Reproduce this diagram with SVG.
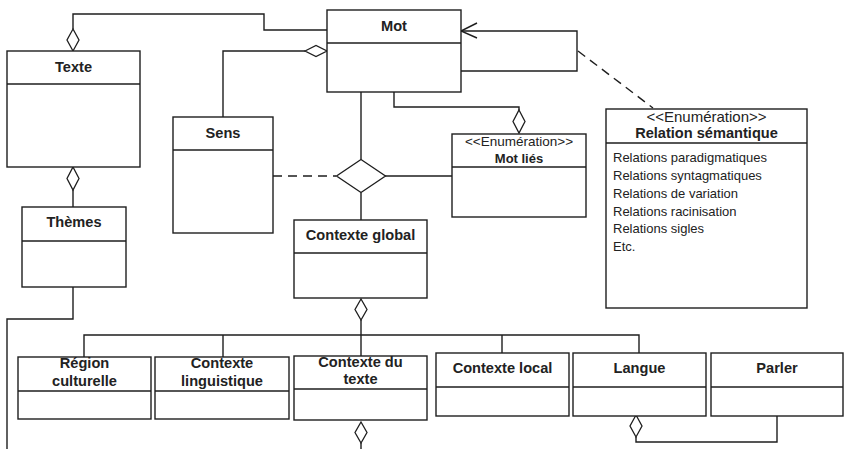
<svg xmlns="http://www.w3.org/2000/svg" width="844" height="449" viewBox="0 0 844 449">
<style>
.box{fill:#fff;stroke:#1e1e1e;stroke-width:1.4}
.ln{fill:none;stroke:#1e1e1e;stroke-width:1.4}
.dash{fill:none;stroke:#1e1e1e;stroke-width:1.4;stroke-dasharray:9,6}
.dia{fill:#fff;stroke:#1e1e1e;stroke-width:1.3}
.h{font-family:"Liberation Sans",Arial,sans-serif;font-weight:bold;font-size:14.6px;fill:#222;text-anchor:middle}
.st{font-family:"Liberation Sans",Arial,sans-serif;font-size:15px;fill:#222;text-anchor:middle}
.li{font-family:"Liberation Sans",Arial,sans-serif;font-size:13px;fill:#222}
</style>
<rect width="844" height="449" fill="#fff"/>
<g id="connectors">
<polyline class="ln" points="73,29 73,14 264,14 264,30 327,30"/>
<polyline class="ln" points="223,117 223,51 305,51"/>
<polyline class="ln" points="73,190 73,207"/>
<polyline class="ln" points="73,287 73,319 7,319 7,449"/>
<polyline class="ln" points="461,71 577,71 577,31 461,31"/>
<polyline class="ln" points="477,23 461,31 477,38"/>
<line class="dash" x1="578" y1="51" x2="653" y2="108"/>
<polyline class="ln" points="394,92 394,107 519,107 519,110"/>
<line class="ln" x1="361" y1="92" x2="361" y2="159.5"/>
<line class="dash" x1="273" y1="176" x2="336" y2="176"/>
<line class="ln" x1="385" y1="176" x2="452" y2="176"/>
<line class="ln" x1="361" y1="192.5" x2="361" y2="220"/>
<line class="ln" x1="361" y1="320" x2="361" y2="356"/>
<polyline class="ln" points="84,357 84,335 639,335 639,353"/>
<line class="ln" x1="223" y1="335" x2="223" y2="357"/>
<line class="ln" x1="502" y1="335" x2="502" y2="353"/>
<line class="ln" x1="361" y1="443" x2="361" y2="449"/>
<polyline class="ln" points="636,437 636,442 777,442 777,416"/>
<polygon class="dia" points="73,29 79,40 73,51 67,40"/>
<polygon class="dia" points="73,167 79,178.5 73,190 67,178.5"/>
<polygon class="dia" points="305,51 316,45.5 327,51 316,56.5"/>
<polygon class="dia" points="519,110 525,121.5 519,133 513,121.5"/>
<polygon class="dia" points="361,159.5 385.5,176 361,192.5 336.5,176"/>
<polygon class="dia" points="361,299 367,309.5 361,320 355,309.5"/>
<polygon class="dia" points="361,422 367,432.5 361,443 355,432.5"/>
<polygon class="dia" points="636,415 642,426 636,437 630,426"/>
</g>
<g id="mot"><rect class="box" x="327" y="10" width="134" height="82"/><line class="ln" x1="327" y1="43" x2="461" y2="43"/><text class="h" x="394" y="31">Mot</text></g>
<g id="texte"><rect class="box" x="7" y="51" width="133" height="116"/><line class="ln" x1="7" y1="84" x2="140" y2="84"/><text class="h" x="73.5" y="72">Texte</text></g>
<g id="sens"><rect class="box" x="173" y="117" width="100" height="116"/><line class="ln" x1="173" y1="150" x2="273" y2="150"/><text class="h" x="223" y="138">Sens</text></g>
<g id="themes"><rect class="box" x="22" y="207" width="104" height="80"/><line class="ln" x1="22" y1="241" x2="126" y2="241"/><text class="h" x="74" y="227">Thèmes</text></g>
<g id="motlies"><rect class="box" x="452" y="134" width="134" height="83"/><line class="ln" x1="452" y1="167" x2="586" y2="167"/><text class="st" x="519" y="146" style="font-size:13.5px">&lt;&lt;Enumération&gt;&gt;</text><text class="h" x="519" y="163" style="font-size:13px">Mot liés</text></g>
<g id="relation"><rect class="box" x="606" y="109" width="201" height="199"/><line class="ln" x1="606" y1="143" x2="807" y2="143"/><text class="st" x="706.5" y="122">&lt;&lt;Enumération&gt;&gt;</text><text class="h" x="706.5" y="138">Relation sémantique</text>
<text class="li" x="613" y="162">Relations paradigmatiques</text>
<text class="li" x="613" y="180">Relations syntagmatiques</text>
<text class="li" x="613" y="198">Relations de variation</text>
<text class="li" x="613" y="216">Relations racinisation</text>
<text class="li" x="613" y="233">Relations sigles</text>
<text class="li" x="613" y="251">Etc.</text></g>
<g id="contexte-global"><rect class="box" x="294" y="220" width="133" height="78"/><line class="ln" x1="294" y1="253" x2="427" y2="253"/><text class="h" x="360.5" y="240">Contexte global</text></g>
<g id="region"><text class="h" x="84.5" y="368">Région</text><text class="h" x="84.5" y="386">culturelle</text><rect class="box" x="18" y="357" width="133" height="62" style="fill:none"/><line class="ln" x1="18" y1="391" x2="151" y2="391"/></g>
<g id="contexte-linguistique"><text class="h" x="222" y="368">Contexte</text><text class="h" x="222" y="386">linguistique</text><rect class="box" x="155" y="357" width="134" height="62" style="fill:none"/><line class="ln" x1="155" y1="391" x2="289" y2="391"/></g>
<g id="contexte-texte"><text class="h" x="360.5" y="367">Contexte du</text><text class="h" x="360.5" y="384">texte</text><rect class="box" x="294" y="356" width="133" height="64" style="fill:none"/><line class="ln" x1="294" y1="389" x2="427" y2="389"/></g>
<g id="contexte-local"><rect class="box" x="436" y="353" width="133" height="63"/><line class="ln" x1="436" y1="387" x2="569" y2="387"/><text class="h" x="502.5" y="373">Contexte local</text></g>
<g id="langue"><rect class="box" x="573" y="353" width="133" height="63"/><line class="ln" x1="573" y1="387" x2="706" y2="387"/><text class="h" x="639.5" y="373">Langue</text></g>
<g id="parler"><rect class="box" x="711" y="353" width="132" height="63"/><line class="ln" x1="711" y1="387" x2="843" y2="387"/><text class="h" x="777" y="373">Parler</text></g>
</svg>
